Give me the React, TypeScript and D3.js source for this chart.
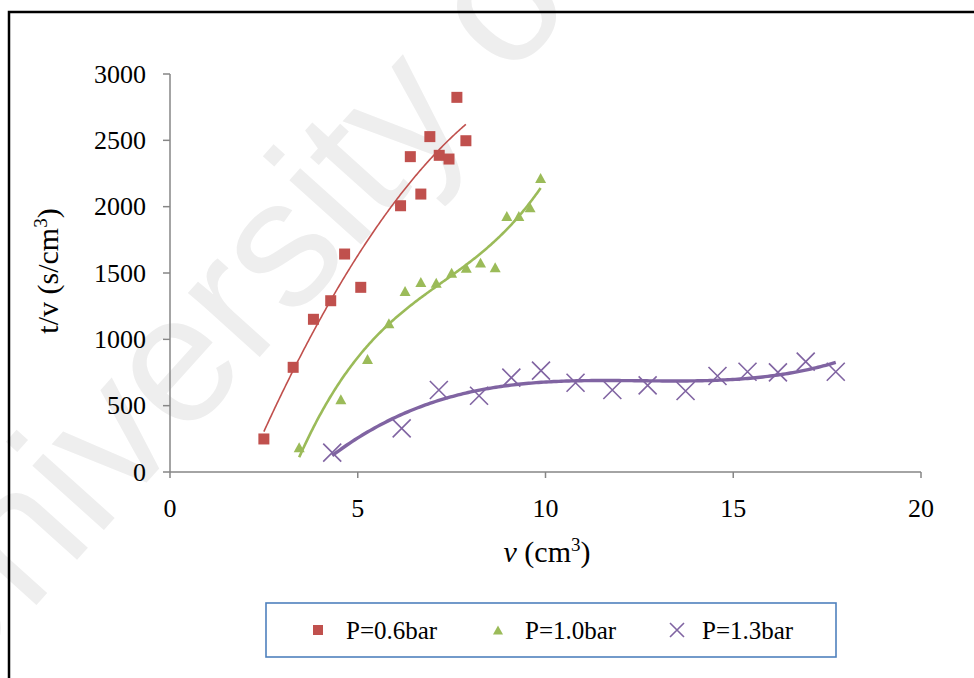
import React from "react";
import * as d3 from "d3";

// ---- data ----
const xTicks = [0, 5, 10, 15, 20];
const yTicks = [0, 500, 1000, 1500, 2000, 2500, 3000];

const p06V = [2.5, 3.28, 3.82, 4.28, 4.65, 5.08, 6.14, 6.4, 6.68, 6.92, 7.17, 7.43, 7.64, 7.88];
const p06T = [249, 789, 1151, 1291, 1643, 1392, 2007, 2377, 2095, 2528, 2387, 2359, 2824, 2497];

const p10V = [3.44, 4.55, 5.26, 5.83, 6.26, 6.68, 7.09, 7.5, 7.89, 8.27, 8.66, 8.97, 9.29, 9.59, 9.87];
const p10T = [186, 548, 852, 1121, 1364, 1432, 1427, 1502, 1540, 1578, 1543, 1930, 1930, 1995, 2216];

const p13V = [4.32, 6.17, 7.16, 8.23, 9.09, 9.88, 10.8, 11.78, 12.72, 13.73, 14.58, 15.38, 16.19, 16.93, 17.73];
const p13T = [146, 329, 618, 575, 711, 764, 673, 618, 653, 611, 724, 756, 751, 832, 756];

const seriesNames = ["P=0.6bar", "P=1.0bar", "P=1.3bar"];
const trendOrders = [2, 3, 3];

// ---- least squares polynomial trendline ----
function polyFit(xs: number[], ys: number[], order: number) {
  const m = d3.mean(xs)!;
  const s = d3.deviation(xs)! || 1;
  const n = order + 1;
  const A: number[][] = Array.from({ length: n }, () => new Array(n + 1).fill(0));
  xs.forEach((x, k) => {
    const t = (x - m) / s;
    for (let i = 0; i < n; i++) {
      for (let j = 0; j < n; j++) A[i][j] += Math.pow(t, i + j);
      A[i][n] += Math.pow(t, i) * ys[k];
    }
  });
  for (let c = 0; c < n; c++) {
    let p = c;
    for (let r = c + 1; r < n; r++) if (Math.abs(A[r][c]) > Math.abs(A[p][c])) p = r;
    [A[c], A[p]] = [A[p], A[c]];
    for (let r = 0; r < n; r++) {
      if (r === c) continue;
      const f = A[r][c] / A[c][c];
      for (let k = c; k <= n; k++) A[r][k] -= f * A[c][k];
    }
  }
  const coef = A.map((row, i) => row[n] / row[i]);
  return (x: number) => {
    const t = (x - m) / s;
    return coef.reduce((acc, c, i) => acc + c * Math.pow(t, i), 0);
  };
}

const W = 974;
const H = 678;
const x = d3.scaleLinear().domain([0, 20]).range([170, 921]);
const y = d3.scaleLinear().domain([0, 3000]).range([472, 74]);

const red = "#C0504D";
const green = "#9BBB59";
const purple = "#8064A2";
const serif = "'Liberation Serif', 'Times New Roman', serif";

function Square({ cx, cy, s = 11 }: { cx: number; cy: number; s?: number }) {
  return <rect x={cx - s / 2} y={cy - s / 2} width={s} height={s} fill={red} />;
}
function Tri({ cx, cy, s = 11 }: { cx: number; cy: number; s?: number }) {
  const h = s * 0.9;
  return (
    <path
      d={`M${cx},${cy - h / 2}L${cx + s / 2},${cy + h / 2}L${cx - s / 2},${cy + h / 2}Z`}
      fill={green}
    />
  );
}
function Cross({ cx, cy, s = 18 }: { cx: number; cy: number; s?: number }) {
  const r = s / 2;
  return (
    <path
      d={`M${cx - r},${cy - r}L${cx + r},${cy + r}M${cx - r},${cy + r}L${cx + r},${cy - r}`}
      stroke={purple}
      strokeWidth={1.6}
      fill="none"
    />
  );
}

function trendPath(xs: number[], ys: number[], order: number) {
  const f = polyFit(xs, ys, order);
  const lo = d3.min(xs)!;
  const hi = d3.max(xs)!;
  const pts = d3.range(0, 201).map((i) => lo + ((hi - lo) * i) / 200);
  return d3
    .line<number>()
    .x((v) => x(v))
    .y((v) => y(f(v)))(pts)!;
}

export default function App() {
  const series = [
    { v: p06V, t: p06T, color: red, width: 1.6 },
    { v: p10V, t: p10T, color: green, width: 2.6 },
    { v: p13V, t: p13T, color: purple, width: 3.4 },
  ];
  return (
    <svg
      width={W}
      height={H}
      style={{ position: "fixed", left: 0, top: 0, background: "#fff" }}
    >
      <rect x={0} y={0} width={W} height={H} fill="#fff" />
      {/* watermark */}
      <text
        transform="translate(-60,712) rotate(-48)"
        fontFamily="'Liberation Sans', Arial, sans-serif"
        fontSize={182}
        fill="#eeeeee"
      >
        University of
      </text>
      {/* outer frame */}
      <rect x={9} y={12} width={W} height={H} fill="none" stroke="#000" strokeWidth={2.5} />

      {/* axes */}
      <line x1={x(0)} x2={x(20)} y1={y(0)} y2={y(0)} stroke="#868686" strokeWidth={1.5} />
      <line x1={x(0)} x2={x(0)} y1={y(0)} y2={y(3000)} stroke="#868686" strokeWidth={1.5} />
      {xTicks.map((t) => (
        <g key={"x" + t}>
          <line x1={x(t)} x2={x(t)} y1={y(0)} y2={y(0) + 6} stroke="#868686" strokeWidth={1.5} />
          <text x={x(t)} y={517} textAnchor="middle" fontFamily={serif} fontSize={26}>
            {t}
          </text>
        </g>
      ))}
      {yTicks.map((t) => (
        <g key={"y" + t}>
          <line x1={x(0) - 7} x2={x(0)} y1={y(t)} y2={y(t)} stroke="#868686" strokeWidth={1.5} />
          <text
            x={146}
            y={y(t)}
            dy="0.33em"
            textAnchor="end"
            fontFamily={serif}
            fontSize={26}
          >
            {t}
          </text>
        </g>
      ))}

      {/* axis titles */}
      <text
        transform="translate(58,271) rotate(-90)"
        textAnchor="middle"
        fontFamily={serif}
        fontSize={30}
      >
        t/v (s/cm<tspan dy={-11} fontSize={19}>3</tspan>
        <tspan dy={11}>)</tspan>
      </text>
      <text x={547} y={562} textAnchor="middle" fontFamily={serif} fontSize={30}>
        <tspan fontStyle="italic">v</tspan> (cm<tspan dy={-11} fontSize={19}>3</tspan>
        <tspan dy={11}>)</tspan>
      </text>

      {/* trendlines */}
      {series.map((s, i) => (
        <path
          key={"tl" + i}
          d={trendPath(s.v, s.t, trendOrders[i])}
          fill="none"
          stroke={s.color}
          strokeWidth={s.width}
        />
      ))}

      {/* markers */}
      {p06V.map((v, i) => (
        <Square key={"a" + i} cx={x(v)} cy={y(p06T[i])} />
      ))}
      {p10V.map((v, i) => (
        <Tri key={"b" + i} cx={x(v)} cy={y(p10T[i])} />
      ))}
      {p13V.map((v, i) => (
        <Cross key={"c" + i} cx={x(v)} cy={y(p13T[i])} />
      ))}

      {/* legend */}
      <rect x={266} y={603} width={570} height={54} fill="#fff" stroke="#4F81BD" strokeWidth={1.6} />
      <Square cx={318} cy={630} s={10} />
      <text x={346} y={639} fontFamily={serif} fontSize={25}>
        {seriesNames[0]}
      </text>
      <Tri cx={498} cy={630} s={10} />
      <text x={525} y={639} fontFamily={serif} fontSize={25}>
        {seriesNames[1]}
      </text>
      <Cross cx={677} cy={630} s={14} />
      <text x={702} y={639} fontFamily={serif} fontSize={25}>
        {seriesNames[2]}
      </text>
    </svg>
  );
}
